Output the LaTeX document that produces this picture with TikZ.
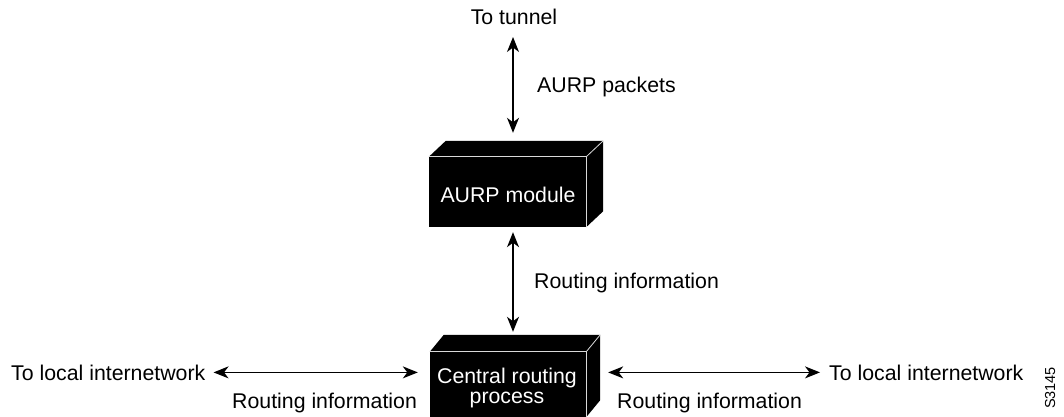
\documentclass[tikz,border=0pt]{standalone}
\usepackage{fontspec}
\setmainfont{Liberation Sans}
\usetikzlibrary{arrows.meta,calc}
\tikzset{
  lbl/.style={inner sep=0pt, font=\fontsize{21.3}{20}\selectfont},
  boxfront/.style={fill=black, inner sep=0pt, minimum width=#1},
  boxtext/.style={lbl, text=white, align=center},
  face/.style={fill=black},
  edge/.style={draw=white!85!black, line width=0.8pt},
  dbl/.style={line width=1.2pt, {Stealth[length=15pt,width=12pt,inset=4.5pt]}-{Stealth[length=15pt,width=12pt,inset=4.5pt]}},
}
\begin{document}
\begin{tikzpicture}[x=1pt,y=-1pt]
\useasboundingbox (0,0) rectangle (1064,417);
% AURP module box
\node[boxfront=157pt, minimum height=70pt] (aurp) at (507.5,192) {};
\fill[face] (aurp.north west) -- ++(17,-16) -- ($(aurp.north east)+(17,-16)$) -- (aurp.north east) -- cycle;
\fill[face] (aurp.north east) -- ++(17,-16) -- ($(aurp.south east)+(17,-16)$) -- (aurp.south east) -- cycle;
\draw[edge] (aurp.north west) -- (aurp.north east) -- (aurp.south east);
\draw[edge] (aurp.north east) -- ++(17,-16);
\node[boxtext, anchor=base] (aurptext) at (508,202) {AURP module};
% Central routing process box
\node[boxfront=156pt, minimum height=65pt] (crp) at (508,384.5) {};
\fill[face] (crp.north west) -- ++(14,-17) -- ($(crp.north east)+(14,-17)$) -- (crp.north east) -- cycle;
\fill[face] (crp.north east) -- ++(14,-17) -- ($(crp.south east)+(14,-17)$) -- (crp.south east) -- cycle;
\draw[edge] (crp.north west) -- (crp.north east) -- (crp.south east);
\draw[edge] (crp.north east) -- ++(14,-17);
\node[boxtext] (crptext) at (507,387.7) {Central routing\\process};
% labels
\node[lbl, anchor=base] (tunnel) at (514,25) {To tunnel};
\node[lbl, anchor=base west] (packets) at (537,93) {AURP packets};
\node[lbl, anchor=base west] (ri1) at (534,288) {Routing information};
\node[lbl, anchor=base west] (loc1) at (11,380) {To local internetwork};
\node[lbl, anchor=base west] (loc2) at (829,380) {To local internetwork};
\node[lbl, anchor=base west] (ri2) at (232,408) {Routing information};
\node[lbl, anchor=base west] (ri3) at (617,408) {Routing information};
\node[inner sep=0pt, font=\fontsize{14.5}{15}\selectfont, rotate=90] (code) at (1050,388) {S3145};
% connectors
\coordinate (tt) at (513,37);
\draw[dbl, shorten >=24pt] (tt) -- (tt |- aurp.north);
\draw[dbl, shorten <=5pt, shorten >=20pt] (tt |- aurp.south) -- (tt |- crp.north);
\draw[dbl, shorten <=8pt, shorten >=12pt] (loc1.east) -- (crp.west |- loc1.east);
\draw[dbl, shorten <=22pt, shorten >=9pt] (crp.east |- loc2.west) -- (loc2.west);
\end{tikzpicture}
\end{document}
